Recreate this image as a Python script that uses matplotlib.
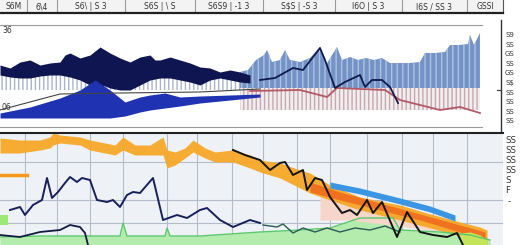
import numpy as np
import matplotlib
matplotlib.use("Agg")
import matplotlib.pyplot as plt

W, H = 520, 245

# header cells
head_edges = [0, 27, 57, 125, 195, 263, 335, 402, 467, 503]
head_text = ["S6M", "6\\4", "S6\\ | S 3", "S6S | \\ S", "S6S9 | -1 3",
             "S$S | -S 3", "I6O | S 3", "I6S / SS 3", "GSSI"]

# top panel: dark band, striped bars, blue area, thin lines
navy_x = [0, 10, 20, 30, 40, 50, 60, 65, 70, 80, 90, 100, 105, 110, 120, 130, 140,
          150, 155, 160, 170, 180, 190, 200, 210, 220, 230, 240, 250]
navy_top = [62, 59, 65, 67, 62, 64, 65, 72, 74, 69, 72, 80, 77, 74, 69, 65, 70,
            72, 67, 67, 70, 67, 64, 60, 59, 55, 57, 55, 52]
navy_low = [52, 50, 49, 49, 51, 52, 52, 51, 50, 47, 42, 42, 41, 39, 37, 37, 42,
            47, 48, 49, 49, 47, 45, 42, 47, 49, 47, 45, 44]

bar_x = [240, 248, 256, 264, 267, 272, 280, 285, 290, 300, 310, 320, 326, 332, 337,
         342, 350, 358, 366, 374, 382, 390, 400, 410, 420, 425, 435, 445, 450, 460,
         468, 470, 474, 480]
bar_top = [55, 57, 67, 72, 77, 65, 67, 77, 67, 65, 69, 80, 62, 72, 80,
           67, 70, 67, 69, 67, 69, 64, 64, 64, 65, 74, 74, 75, 82, 82,
           83, 92, 82, 94]

blue_x = [0, 30, 60, 80, 95, 110, 125, 140, 150, 165, 180, 200, 230, 260]
blue_top = [14, 20, 29, 37, 47, 37, 25, 30, 32, 34, 30, 31, 32, 33]
blue_low = [9, 9, 9, 9, 9, 9, 11, 15, 17, 19, 21, 24, 27, 30]

gray_x = [0, 60, 120, 200, 260]
gray_y = [17, 33, 34, 35, 38]

red_x = [250, 300, 327, 337, 385, 400, 420, 440, 460, 480]
red_y = [36, 37, 30, 39, 37, 27, 22, 17, 20, 14]

line_x = [260, 275, 293, 303, 320, 325, 335, 345, 360, 365, 372, 382, 390, 398]
line_y = [47, 49, 59, 57, 79, 67, 39, 45, 52, 40, 47, 47, 40, 24]

# bottom panel
or_x = [0, 20, 40, 50, 53, 60, 80, 90, 100, 115, 123, 135, 150, 163, 167, 175, 185,
        193, 205, 215, 233, 250, 260, 280, 300, 310, 330, 360, 400, 427, 460, 480, 487]
or_top = [107, 105, 105, 108, 112, 110, 108, 105, 103, 100, 108, 100, 100, 108, 95, 93, 97,
          105, 97, 93, 95, 90, 85, 82, 75, 72, 60, 48, 40, 32, 23, 18, 15]
or_low = [92, 92, 95, 97, 100, 102, 100, 95, 93, 90, 95, 90, 90, 90, 77, 80, 87,
          93, 87, 83, 83, 77, 73, 67, 57, 52, 45, 35, 25, 18, 9, 3, 0]

or2_x = [310, 340, 380, 420, 460, 485]
or2_top = [63, 53, 42, 31, 20, 13]
or2_low = [53, 45, 35, 25, 13, 0]

peach_x = [320, 350, 390, 430, 465]
peach_top = [60, 50, 38, 27, 15]
peach_low = [25, 25, 20, 15, 10]

bl_x = [330, 360, 400, 430, 455]
bl_top = [63, 57, 47, 39, 30]
bl_low = [57, 51, 41, 33, 24]

green_x = [0, 40, 80, 120, 123, 127, 165, 167, 170, 200, 260, 300, 330, 360, 393,
           400, 440, 470, 490]
green_y = [8, 9, 9, 9, 22, 9, 9, 17, 9, 9, 13, 15, 17, 27, 27, 15, 13, 10, 5]

nv_x = [10, 20, 25, 33, 42, 47, 52, 58, 65, 70, 77, 82, 90, 97, 107, 113, 120, 127,
        133, 140, 153, 163, 177, 187, 200, 207, 220, 233, 250, 260]
nv_y = [35, 38, 30, 40, 45, 67, 47, 53, 62, 68, 63, 67, 65, 45, 43, 45, 38, 50,
        53, 52, 67, 25, 30, 27, 35, 37, 25, 18, 25, 22]

teal_x = [263, 277, 283, 293, 303, 315, 327, 340, 355, 370, 385, 400]
teal_y = [20, 18, 21, 12, 17, 13, 17, 13, 17, 15, 19, 13]

low_x = [0, 20, 40, 60, 70, 80, 85, 88]
low_y = [10, 8, 13, 15, 20, 18, 12, 0]

blk_x = [233, 245, 260, 270, 280, 285, 293, 303, 307, 315, 322, 330, 342, 350, 357,
         367, 373, 382, 397, 407, 420, 433, 447, 457, 463]
blk_y = [95, 90, 85, 75, 82, 83, 70, 75, 55, 67, 65, 48, 32, 35, 30,
         45, 32, 43, 8, 33, 13, 10, 8, 12, 0]

vgrid = [25, 57, 90, 123, 167, 197, 232, 263, 297, 330, 367, 402, 433, 467]
hgrid = [22, 45, 83]

side_small = ["S9", "SS", "GS", "SS", "GS", "S$", "SS", "SS", "SS", "SS"]
side_big = ["SS", "SS", "SS", "SS", "S", "F"]


def rect(x0, y0, x1, y1):
    return [x0 / W, 1 - y1 / H, (x1 - x0) / W, (y1 - y0) / H]


fig = plt.figure(figsize=(W / 100, H / 100), dpi=100)
fig.patch.set_facecolor("white")

# header strip
hx = fig.add_axes(rect(0, 0, 503, 13))
hx.set_xlim(0, 503)
hx.set_ylim(0, 1)
hx.set_facecolor("#f3f3f3")
for e in head_edges[1:-1]:
    hx.axvline(e, color="#9a9a9a", lw=0.8)
for i, t in enumerate(head_text):
    hx.text((head_edges[i] + head_edges[i + 1]) / 2, 0.5, t, ha="center", va="center",
            fontsize=5.5, color="#333333")
hx.set_xticks([])
hx.set_yticks([])
for s in ["top", "left"]:
    hx.spines[s].set_visible(False)
hx.spines["bottom"].set_linewidth(1.6)
hx.spines["bottom"].set_color("#222222")
hx.spines["right"].set_color("#555555")

# top panel
ax1 = fig.add_axes(rect(0, 25, 482, 127))
ax1.set_xlim(0, 482)
ax1.set_ylim(0, 102)
ax1.fill_between(navy_x, navy_low, 37, facecolor="white", edgecolor="#a9b2c8",
                 hatch="||||", lw=0)
ax1.fill_between(bar_x, 17, 39, facecolor="#f1eef0", edgecolor="#c9a7ae",
                 hatch="||||", lw=0)
ax1.fill_between(bar_x, 39, bar_top, facecolor="#7393c6", edgecolor="#aec2e2",
                 hatch="|||", lw=0)
ax1.fill_between(navy_x, navy_low, navy_top, color="#0e1550", lw=0)
ax1.fill_between(blue_x, blue_low, blue_top, color="#1f33b2", lw=0)
ax1.plot(gray_x, gray_y, color="#444444", lw=0.8)
ax1.plot(red_x, red_y, color="#b35a68", lw=1.3)
ax1.plot(line_x, line_y, color="#0f1a4d", lw=1.3)
ax1.text(2, 96, "36", fontsize=5.5, color="#333333", va="center")
ax1.text(2, 19, "06", fontsize=5.5, color="#333333", va="center")
ax1.set_xticks([])
ax1.set_yticks([])
for s in ["left", "right"]:
    ax1.spines[s].set_visible(False)
for s in ["top", "bottom"]:
    ax1.spines[s].set_color("#9a9a9a")
    ax1.spines[s].set_linewidth(0.8)

# frame line and side labels on the right
fx = fig.add_axes([0, 0, 1, 1], facecolor="none")
fx.set_xlim(0, W)
fx.set_ylim(H, 0)
fx.axis("off")
fx.plot([501, 501], [20, 133], color="#333333", lw=1)
fx.plot([497, 501], [90, 90], color="#333333", lw=0.8)
for i, t in enumerate(side_small):
    fx.text(505, 35 + i * 9.6, t, fontsize=5, color="#333333", va="center")
for i, t in enumerate(side_big):
    fx.text(505, 140 + i * 10, t, fontsize=6.2, color="#333333", va="center")
fx.text(508, 202, "-", fontsize=6, color="#333333", va="center")

# bottom panel
ax2 = fig.add_axes(rect(0, 133, 503, 245))
ax2.set_xlim(0, 503)
ax2.set_ylim(0, 112)
ax2.set_facecolor("#eef2f7")
ax2.set_xticks(vgrid)
ax2.set_yticks(hgrid)
ax2.grid(True, color="#b3bcc8", lw=0.8)
ax2.tick_params(length=0, labelbottom=False, labelleft=False)
ax2.set_axisbelow(True)
ax2.fill_between(green_x, 0, green_y, color="#b4ecae", lw=0)
ax2.plot(green_x, green_y, color="#5cc86a", lw=1)
ax2.fill_between([0, 8], [20, 20], [30, 30], color="#9ee87a", lw=0)
ax2.fill_between(peach_x, peach_low, peach_top, color="#f6d6c8", lw=0)
ax2.fill_between(or_x, or_low, or_top, color="#f7a727", lw=0, alpha=0.95)
ax2.fill_between(or2_x, or2_low, or2_top, color="#f06c1e", lw=0, alpha=0.9)
ax2.fill_between([460, 470, 480, 487], 0, [12, 13, 10, 5], color="#c4e45a", lw=0)
ax2.fill_between(bl_x, bl_low, bl_top, color="#3a95e3", lw=0)
ax2.plot([0, 27], [70, 70], color="#f59a1c", lw=2.5)
ax2.plot(nv_x, nv_y, color="#17205a", lw=1.4)
ax2.plot(teal_x, teal_y, color="#2b5a55", lw=1)
ax2.plot(low_x, low_y, color="#111a40", lw=1.3)
ax2.plot(blk_x, blk_y, color="#151515", lw=1.4)
for s in ["left", "bottom", "right"]:
    ax2.spines[s].set_visible(False)
ax2.spines["top"].set_color("#222222")
ax2.spines["top"].set_linewidth(1.5)

fig.savefig("out.png", dpi=100)
